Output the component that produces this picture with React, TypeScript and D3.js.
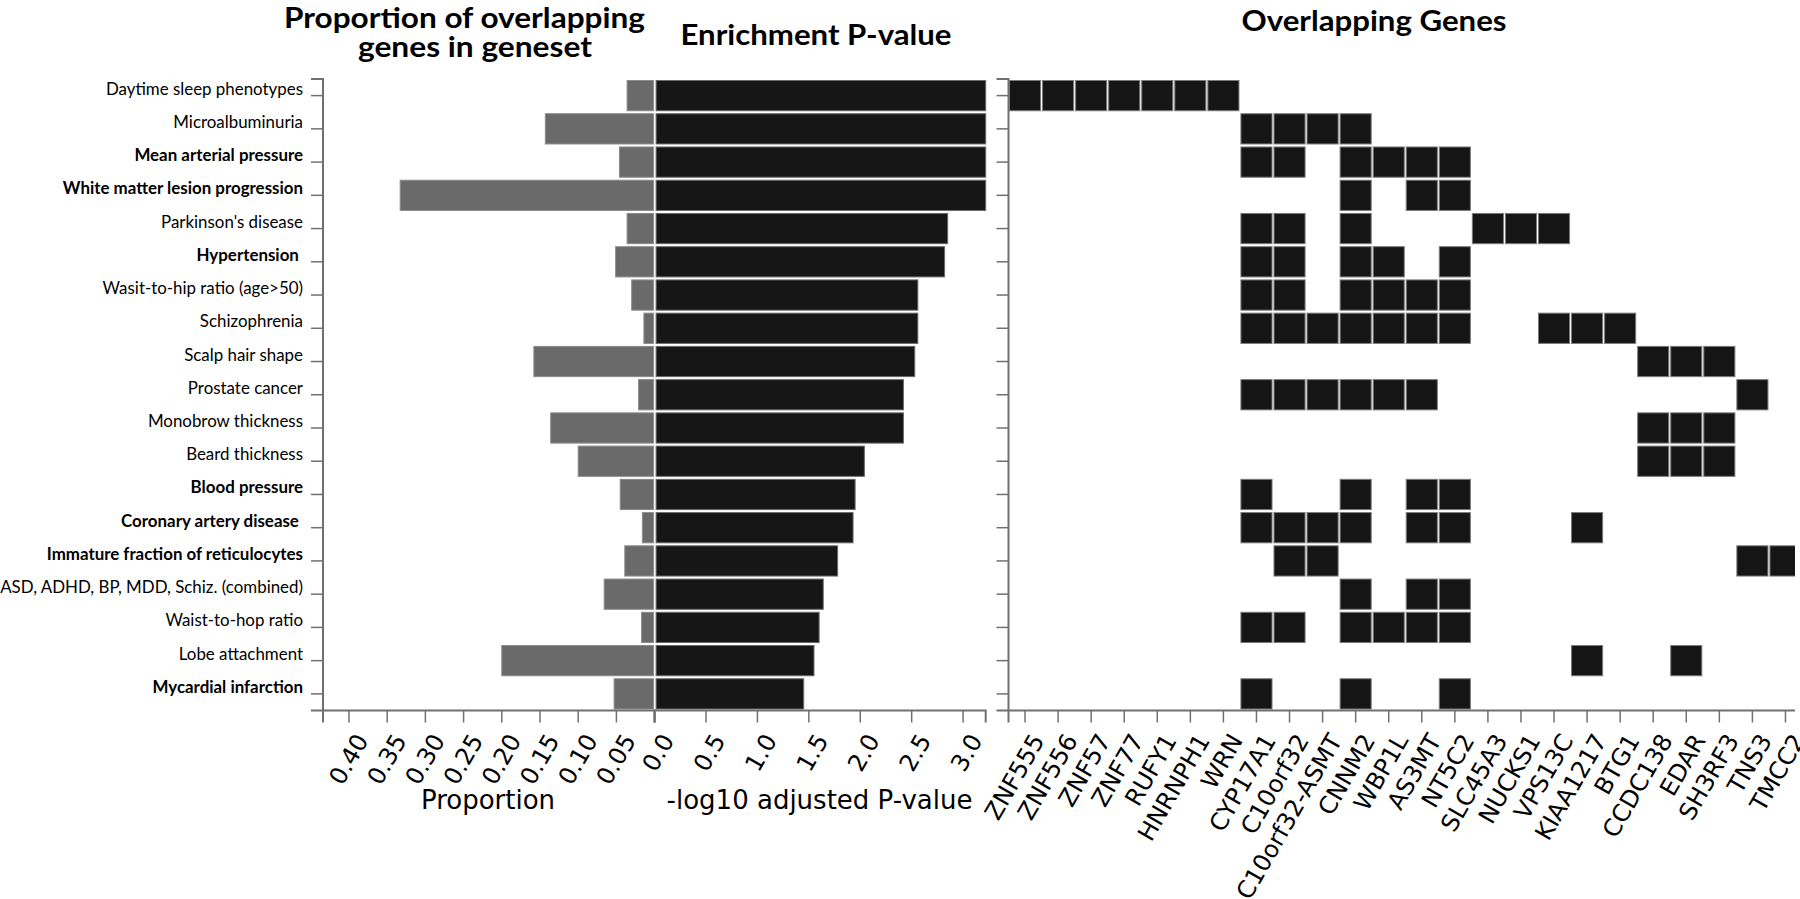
import React from "react";
import * as d3 from "d3";

const traits = [
  "Daytime sleep phenotypes",
  "Microalbuminuria",
  "Mean arterial pressure",
  "White matter lesion progression",
  "Parkinson's disease",
  "Hypertension ",
  "Wasit-to-hip ratio (age>50)",
  "Schizophrenia",
  "Scalp hair shape",
  "Prostate cancer",
  "Monobrow thickness",
  "Beard thickness",
  "Blood pressure",
  "Coronary artery disease ",
  "Immature fraction of reticulocytes",
  "ASD, ADHD, BP, MDD, Schiz. (combined)",
  "Waist-to-hop ratio",
  "Lobe attachment",
  "Mycardial infarction",
];

const boldTraits = [
  "Mean arterial pressure",
  "White matter lesion progression",
  "Hypertension ",
  "Blood pressure",
  "Coronary artery disease ",
  "Immature fraction of reticulocytes",
  "Mycardial infarction",
];

const proportion = [
  0.036, 0.143, 0.046, 0.333, 0.036, 0.051, 0.03, 0.014, 0.158, 0.021,
  0.136, 0.1, 0.045, 0.016, 0.039, 0.066, 0.017, 0.2, 0.053,
];

const negLog10P = [
  3.22, 3.22, 3.22, 3.22, 2.85, 2.82, 2.56, 2.56, 2.53, 2.42, 2.42, 2.04,
  1.95, 1.93, 1.78, 1.64, 1.6, 1.55, 1.45,
];

const genes = [
  "ZNF555", "ZNF556", "ZNF57", "ZNF77", "RUFY1", "HNRNPH1", "WRN",
  "CYP17A1", "C10orf32", "C10orf32-ASMT", "CNNM2", "WBP1L", "AS3MT",
  "NT5C2", "SLC45A3", "NUCKS1", "VPS13C", "KIAA1217", "BTG1", "CCDC138",
  "EDAR", "SH3RF3", "TNS3", "TMCC2",
];

const overlaps = [
  ["ZNF555", "ZNF556", "ZNF57", "ZNF77", "RUFY1", "HNRNPH1", "WRN"],
  ["CYP17A1", "C10orf32", "C10orf32-ASMT", "CNNM2"],
  ["CYP17A1", "C10orf32", "CNNM2", "WBP1L", "AS3MT", "NT5C2"],
  ["CNNM2", "AS3MT", "NT5C2"],
  ["CYP17A1", "C10orf32", "CNNM2", "SLC45A3", "NUCKS1", "VPS13C"],
  ["CYP17A1", "C10orf32", "CNNM2", "WBP1L", "NT5C2"],
  ["CYP17A1", "C10orf32", "CNNM2", "WBP1L", "AS3MT", "NT5C2"],
  ["CYP17A1", "C10orf32", "C10orf32-ASMT", "CNNM2", "WBP1L", "AS3MT", "NT5C2", "VPS13C", "KIAA1217", "BTG1"],
  ["CCDC138", "EDAR", "SH3RF3"],
  ["CYP17A1", "C10orf32", "C10orf32-ASMT", "CNNM2", "WBP1L", "AS3MT", "TNS3"],
  ["CCDC138", "EDAR", "SH3RF3"],
  ["CCDC138", "EDAR", "SH3RF3"],
  ["CYP17A1", "CNNM2", "AS3MT", "NT5C2"],
  ["CYP17A1", "C10orf32", "C10orf32-ASMT", "CNNM2", "AS3MT", "NT5C2", "KIAA1217"],
  ["C10orf32", "C10orf32-ASMT", "TNS3", "TMCC2"],
  ["CNNM2", "AS3MT", "NT5C2"],
  ["CYP17A1", "C10orf32", "CNNM2", "WBP1L", "AS3MT", "NT5C2"],
  ["KIAA1217", "EDAR"],
  ["CYP17A1", "CNNM2", "NT5C2"],
];

const propTicks = [0.4, 0.35, 0.3, 0.25, 0.2, 0.15, 0.1, 0.05];
const pTicks = [0, 0.5, 1, 1.5, 2, 2.5, 3];

const W = 1800;
const H = 899;
const AXIS = "#707070";
const TICK_FONT = "'DejaVu Sans', sans-serif";
const LABEL_FONT = "Lato, 'Open Sans', sans-serif";

export default function App() {
  const y = d3
    .scaleBand<string>()
    .domain(traits)
    .range([79, 710.5])
    .paddingInner(0.09)
    .paddingOuter(0.045);
  const propX = d3.scaleLinear().domain([0, 0.434]).range([654.6, 323]);
  const pX = d3.scaleLinear().domain([0, 3.22]).range([654.6, 985.7]);
  const gX = d3
    .scaleBand<string>()
    .domain(genes)
    .range([1008.5, 1802])
    .paddingInner(0.06)
    .paddingOuter(0.03);

  const yTop = y.range()[0];
  const yBot = y.range()[1];
  const rowC = (t: string) => (y(t) as number) + y.bandwidth() / 2;
  const ts = 12;
  const leftX = propX(0.434);
  const zeroX = propX(0);
  const gLeft = gX.range()[0];
  const gRight = gX.range()[1];

  const rotLabel = (x: number, text: string, key: string) => (
    <text
      key={key}
      transform={`translate(${x + 5},${yBot + 21}) rotate(-60)`}
      textAnchor="end"
      dy="0.73em"
      fontFamily={TICK_FONT}
      fontSize={24}
      fill="#000"
    >
      {text}
    </text>
  );

  return (
    <div style={{ position: "absolute", left: 0, top: 0 }}>
      <svg width={W} height={H} style={{ display: "block", background: "#fff" }}>
        <defs>
          <clipPath id="gclip">
            <rect x={0} y={0} width={1795} height={H} />
          </clipPath>
        </defs>
        {/* titles */}
        <g fontFamily={LABEL_FONT} fontWeight="bold" fill="#000" fontSize={28}>
          <text x={464.5} y={28} textAnchor="middle" textLength={361} lengthAdjust="spacingAndGlyphs">
            Proportion of overlapping
          </text>
          <text x={475} y={57} textAnchor="middle" textLength={234} lengthAdjust="spacingAndGlyphs">
            genes in geneset
          </text>
          <text x={816} y={45} textAnchor="middle" textLength={271} lengthAdjust="spacingAndGlyphs">
            Enrichment P-value
          </text>
          <text x={1374} y={31} textAnchor="middle" textLength={265} lengthAdjust="spacingAndGlyphs">
            Overlapping Genes
          </text>
        </g>

        {/* proportion bars */}
        {traits.map((t, i) => (
          <rect
            key={"pb" + i}
            x={propX(proportion[i])}
            y={y(t)}
            width={zeroX - 1 - propX(proportion[i])}
            height={y.bandwidth()}
            fill="#6a6a6a"
            stroke="#8c8c8c"
            strokeWidth={1}
          />
        ))}
        {/* p-value bars */}
        {traits.map((t, i) => (
          <rect
            key={"pv" + i}
            x={pX(0) + 1.5}
            y={y(t)}
            width={pX(negLog10P[i]) - pX(0) - 1.5}
            height={y.bandwidth()}
            fill="#161616"
            stroke="#6a6a6a"
            strokeWidth={1}
          />
        ))}

        {/* gene cells */}
        <g clipPath="url(#gclip)">
          {traits.map((t, i) =>
            overlaps[i].map((g) => (
              <rect
                key={"c" + i + g}
                x={gX(g)}
                y={y(t)}
                width={gX.bandwidth()}
                height={y.bandwidth()}
                fill="#151515"
                stroke="#7a7a7a"
                strokeWidth={1}
              />
            ))
          )}
          {/* gene x axis */}
          <path
            d={`M${gLeft},${yBot + ts}V${yBot}H${gRight}V${yBot + ts}`}
            fill="none"
            stroke={AXIS}
            strokeWidth={2}
          />
          {genes.map((g) => {
            const cx = (gX(g) as number) + gX.bandwidth() / 2;
            return (
              <line key={"gt" + g} x1={cx} x2={cx} y1={yBot} y2={yBot + ts} stroke={AXIS} strokeWidth={1.5} />
            );
          })}
        </g>
        {genes.map((g) => rotLabel((gX(g) as number) + gX.bandwidth() / 2, g, "gl" + g))}

        {/* gene y axis */}
        <path
          d={`M${gLeft - ts},${yTop}H${gLeft}V${yBot}H${gLeft - ts}`}
          fill="none"
          stroke={AXIS}
          strokeWidth={2}
        />
        {traits.map((t, i) => (
          <line key={"gyt" + i} x1={gLeft - ts} x2={gLeft} y1={rowC(t)} y2={rowC(t)} stroke={AXIS} strokeWidth={1.5} />
        ))}

        {/* left y axis */}
        <path
          d={`M${leftX - ts},${yTop}H${leftX}V${yBot}H${leftX - ts}`}
          fill="none"
          stroke={AXIS}
          strokeWidth={2}
        />
        {traits.map((t, i) => (
          <g key={"yl" + i}>
            <line x1={leftX - ts} x2={leftX} y1={rowC(t)} y2={rowC(t)} stroke={AXIS} strokeWidth={1.5} />
            <text
              x={leftX - 20}
              y={rowC(t) - 1}
              textAnchor="end"
              fontFamily={LABEL_FONT}
              fontSize={16.9}
              fontWeight={boldTraits.includes(t) ? "bold" : "normal"}
              style={{ whiteSpace: "pre" }}
              fill="#000"
            >
              {t}
            </text>
          </g>
        ))}

        {/* proportion x axis */}
        <path
          d={`M${leftX},${yBot + ts}V${yBot}H${zeroX}V${yBot + ts}`}
          fill="none"
          stroke={AXIS}
          strokeWidth={2}
        />
        {propTicks.map((v) => (
          <line key={"ptk" + v} x1={propX(v)} x2={propX(v)} y1={yBot} y2={yBot + ts} stroke={AXIS} strokeWidth={1.5} />
        ))}
        {propTicks.map((v) => rotLabel(propX(v), d3.format(".2f")(v), "ptl" + v))}

        {/* p-value x axis */}
        <path
          d={`M${pX(0)},${yBot + ts}V${yBot}H${pX.range()[1]}V${yBot + ts}`}
          fill="none"
          stroke={AXIS}
          strokeWidth={2}
        />
        {pTicks.map((v) => (
          <line key={"pvt" + v} x1={pX(v)} x2={pX(v)} y1={yBot} y2={yBot + ts} stroke={AXIS} strokeWidth={1.5} />
        ))}
        {pTicks.map((v) => rotLabel(pX(v), d3.format(".1f")(v), "pvl" + v))}

        {/* axis titles */}
        <text x={488} y={809} textAnchor="middle" fontFamily={TICK_FONT} fontSize={26} fill="#000">
          Proportion
        </text>
        <text x={819.5} y={809} textAnchor="middle" fontFamily={TICK_FONT} fontSize={26} fill="#000">
          -log10 adjusted P-value
        </text>
      </svg>
    </div>
  );
}
